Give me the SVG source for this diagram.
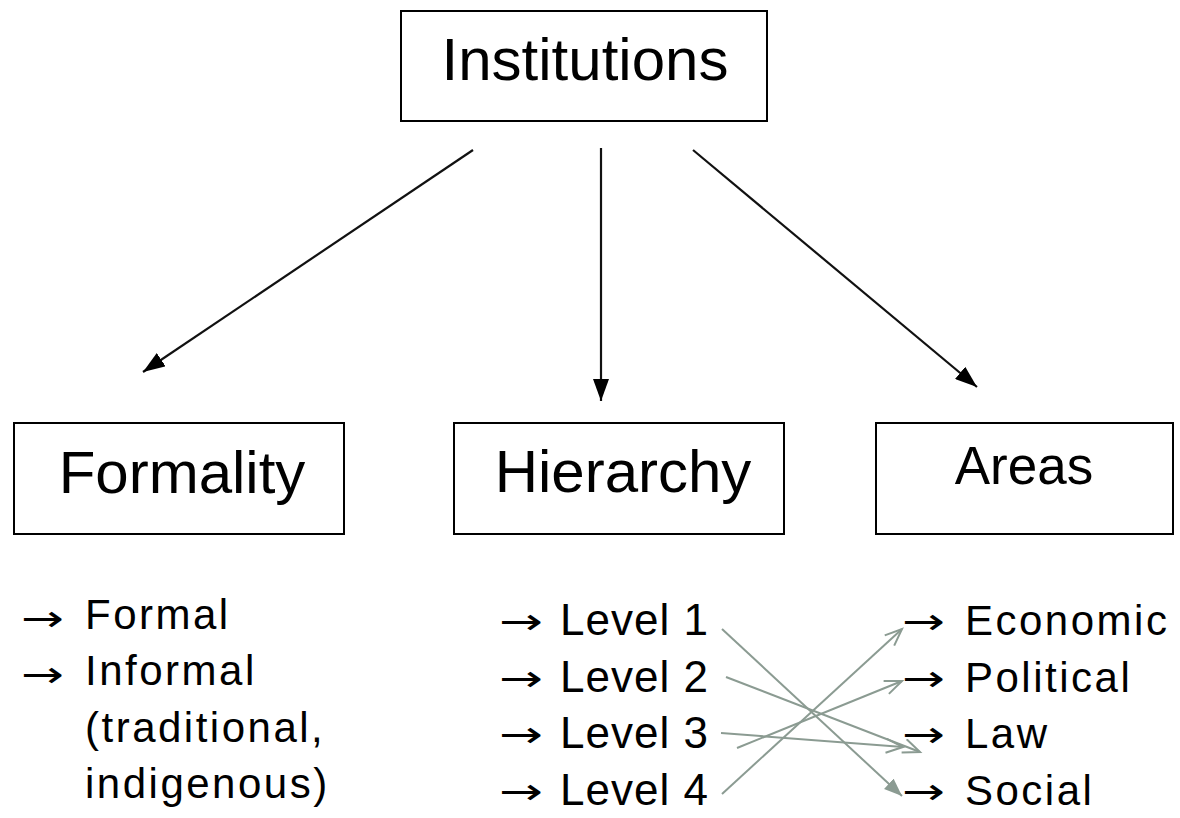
<svg xmlns="http://www.w3.org/2000/svg" width="1180" height="818" viewBox="0 0 1180 818">
<style>
.box{fill:#fff;stroke:#000;stroke-width:2}
.title{font-family:"Liberation Sans",Arial,sans-serif;font-size:60px;fill:#000;text-anchor:middle}
.item{font-family:"Liberation Sans",Arial,sans-serif;font-size:42px;fill:#000;letter-spacing:2.5px}
.lvl{font-family:"Liberation Sans",Arial,sans-serif;font-size:44px;fill:#000;letter-spacing:1px}
.arr{font-family:"DejaVu Sans",sans-serif;font-size:36px;fill:#000}
.main{stroke:#111;stroke-width:2.2;fill:none}
.gray{stroke:#8b9b92;stroke-width:2;fill:none}
</style>
<defs>
<marker id="blk" markerUnits="userSpaceOnUse" markerWidth="24" markerHeight="16" refX="22" refY="8" orient="auto">
<path d="M0,0 L22,8 L0,16 Z" fill="#000"/>
</marker>
<marker id="gfill" markerUnits="userSpaceOnUse" markerWidth="20" markerHeight="16" refX="18" refY="7" orient="auto">
<path d="M0,0 L18,7 L0,14 Z" fill="#8b9b92"/>
</marker>
<marker id="gopen" markerUnits="userSpaceOnUse" markerWidth="22" markerHeight="18" refX="18" refY="8" orient="auto">
<path d="M1,1 L18,8 L1,15" fill="none" stroke="#8b9b92" stroke-width="2"/>
</marker>
</defs>
<rect width="1180" height="818" fill="#fff"/>
<g id="institutions">
<rect class="box" x="401" y="11" width="366" height="110"/>
<text class="title" x="585" y="80">Institutions</text>
</g>
<g id="formality">
<rect class="box" x="14" y="423" width="330" height="111"/>
<text class="title" x="182" y="493">Formality</text>
</g>
<g id="hierarchy">
<rect class="box" x="454" y="423" width="330" height="111"/>
<text class="title" x="623" y="492">Hierarchy</text>
</g>
<g id="areas">
<rect class="box" x="876" y="423" width="297" height="111"/>
<text class="title" x="1024" y="484" style="font-size:53px">Areas</text>
</g>
<g id="formality-items">
<text class="arr" x="21" y="631" textLength="43" lengthAdjust="spacingAndGlyphs">→</text>
<text class="item" x="85" y="629">Formal</text>
<text class="arr" x="21" y="687" textLength="43" lengthAdjust="spacingAndGlyphs">→</text>
<text class="item" x="85" y="685">Informal</text>
<text class="item" x="85" y="742">(traditional,</text>
<text class="item" x="85" y="798">indigenous)</text>
</g>
<g id="hierarchy-items">
<text class="arr" x="499" y="634" textLength="44" lengthAdjust="spacingAndGlyphs">→</text>
<text class="lvl" x="560" y="635">Level 1</text>
<text class="arr" x="499" y="691" textLength="44" lengthAdjust="spacingAndGlyphs">→</text>
<text class="lvl" x="560" y="692">Level 2</text>
<text class="arr" x="499" y="747" textLength="44" lengthAdjust="spacingAndGlyphs">→</text>
<text class="lvl" x="560" y="748">Level 3</text>
<text class="arr" x="499" y="804" textLength="44" lengthAdjust="spacingAndGlyphs">→</text>
<text class="lvl" x="560" y="805">Level 4</text>
</g>
<g id="areas-items">
<text class="arr" x="902" y="634" textLength="43" lengthAdjust="spacingAndGlyphs">→</text>
<text class="item" x="965" y="635">Economic</text>
<text class="arr" x="902" y="691" textLength="43" lengthAdjust="spacingAndGlyphs">→</text>
<text class="item" x="965" y="692">Political</text>
<text class="arr" x="902" y="747" textLength="43" lengthAdjust="spacingAndGlyphs">→</text>
<text class="item" x="965" y="748">Law</text>
<text class="arr" x="902" y="804" textLength="43" lengthAdjust="spacingAndGlyphs">→</text>
<text class="item" x="965" y="805">Social</text>
</g>
<g id="connectors">
<line class="main" x1="473" y1="150" x2="143" y2="372" marker-end="url(#blk)"/>
<line class="main" x1="601" y1="148" x2="601" y2="401" marker-end="url(#blk)"/>
<line class="main" x1="693" y1="150" x2="977" y2="387" marker-end="url(#blk)"/>
<line class="gray" x1="722" y1="629" x2="902" y2="796" marker-end="url(#gfill)"/>
<line class="gray" x1="726" y1="677" x2="920" y2="752" marker-end="url(#gopen)"/>
<line class="gray" x1="721" y1="733" x2="903" y2="747" marker-end="url(#gopen)"/>
<line class="gray" x1="737" y1="748" x2="902" y2="681" marker-end="url(#gopen)"/>
<line class="gray" x1="722" y1="794" x2="902" y2="629" marker-end="url(#gopen)"/>
</g>
</svg>
